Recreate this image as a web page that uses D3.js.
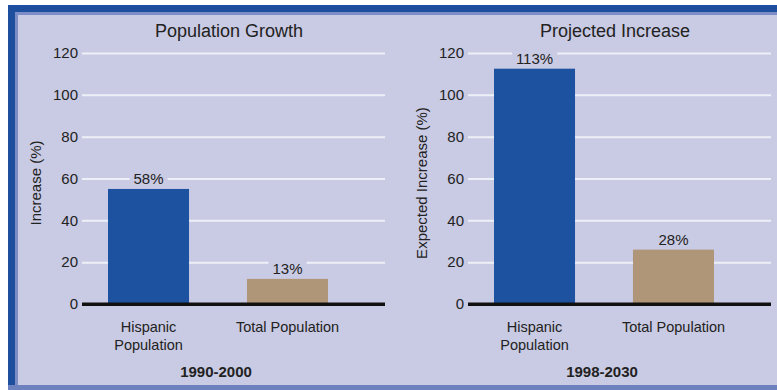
<!DOCTYPE html>
<html>
<head>
<meta charset="utf-8">
<script src="https://cdn.jsdelivr.net/npm/d3@7"></script>
<style>
  body { margin: 0; background: #fff; }
  svg { display: block; font-family: "Liberation Sans", Arial, sans-serif; }
  text { fill: #222; }
</style>
</head>
<body>
<svg width="777" height="390"></svg>
<script>
// chart values
var panelTitles = ["Population Growth", "Projected Increase"];
var periods = ["1990-2000", "1998-2030"];
var yTitles = ["Increase (%)", "Expected Increase (%)"];
var categories = ["Hispanic Population", "Total Population"];
var categoryLines = [["Hispanic", "Population"], ["Total Population"]];
var growthValues = [55, 12];        // bar heights as drawn, 1990-2000
var growthLabels = ["58%", "13%"];
var projectedValues = [112.5, 26];  // bar heights as drawn, 1998-2030
var projectedLabels = ["113%", "28%"];
var yTicks = [0, 20, 40, 60, 80, 100, 120];

var svg = d3.select("svg"),
    width = +svg.attr("width"),
    height = +svg.attr("height");

var bg = "#c9cae3",
    barColors = ["#1c52a0", "#b09679"];

// frame
svg.append("rect").attr("x", 8).attr("y", 5).attr("width", width - 8).attr("height", height - 5).attr("fill", bg);
svg.append("rect").attr("x", 8).attr("y", 5).attr("width", width - 8).attr("height", 7).attr("fill", "#1d4f9e");
svg.append("rect").attr("x", 8).attr("y", 12).attr("width", width - 8).attr("height", 3).attr("fill", "#7d8dc6");
svg.append("rect").attr("x", 8).attr("y", 5).attr("width", 7).attr("height", height - 5).attr("fill", "#1d4f9e");
svg.append("rect").attr("x", 15).attr("y", 12).attr("width", 3).attr("height", height - 17).attr("fill", "#7d8dc6");
svg.append("rect").attr("x", 8).attr("y", 385).attr("width", width - 8).attr("height", 5).attr("fill", "#6c81bd");

var y = d3.scaleLinear()
    .domain([0, 120])
    .range([304, 53]);

var x = d3.scaleBand()
    .domain(categories)
    .range([108, 328])
    .paddingInner(0.417);

var panels = [
  {values: growthValues, labels: growthLabels, dx: 0},
  {values: projectedValues, labels: projectedLabels, dx: 386}
];

panels.forEach(function(p, i) {
  var g = svg.append("g").attr("transform", "translate(" + p.dx + ",0)");

  // grid
  g.append("g")
      .attr("transform", "translate(82,0)")
      .call(d3.axisLeft(y).tickValues(yTicks).tickSize(-303).tickPadding(4).tickFormat(d3.format("d")))
      .call(function(a) {
        a.select(".domain").remove();
        a.selectAll(".tick line")
            .attr("stroke", function(d) { return d === 0 ? "#111" : "#eef0f8"; })
            .attr("stroke-width", function(d) { return d === 0 ? 3 : 2; });
        a.selectAll(".tick text")
            .attr("fill", "#222")
            .attr("font-size", 15)
            .attr("font-family", "Liberation Sans, Arial, sans-serif");
      });

  // bars
  g.selectAll(".bar")
    .data(p.values)
    .enter().append("rect")
      .attr("x", function(d, j) { return x(categories[j]); })
      .attr("y", function(d) { return y(d); })
      .attr("width", x.bandwidth())
      .attr("height", function(d) { return y(0) - y(d); })
      .attr("fill", function(d, j) { return barColors[j]; });

  // baseline redrawn over bars
  g.append("line")
      .attr("x1", 82).attr("x2", 385)
      .attr("y1", y(0)).attr("y2", y(0))
      .attr("stroke", "#111").attr("stroke-width", 3);

  // value labels with background knockout
  var lab = g.selectAll(".val")
    .data(p.values)
    .enter().append("g");
  lab.append("text")
      .attr("x", function(d, j) { return x(categories[j]) + x.bandwidth() / 2; })
      .attr("y", function(d) { return y(d) - 5; })
      .attr("text-anchor", "middle")
      .attr("font-size", 15)
      .text(function(d, j) { return p.labels[j]; })
      .each(function() {
        var b = this.getBBox();
        d3.select(this.parentNode).insert("rect", "text")
            .attr("x", b.x - 4).attr("y", b.y)
            .attr("width", b.width + 8).attr("height", b.height)
            .attr("fill", bg);
      });

  // category labels
  categoryLines.forEach(function(lines, j) {
    var t = g.append("text")
        .attr("x", x(categories[j]) + x.bandwidth() / 2)
        .attr("y", 332)
        .attr("text-anchor", "middle")
        .attr("font-size", 14.5);
    lines.forEach(function(s, k) {
      t.append("tspan")
          .attr("x", x(categories[j]) + x.bandwidth() / 2)
          .attr("dy", k ? 18 : 0)
          .text(s);
    });
  });

  // titles
  g.append("text")
      .attr("x", 229).attr("y", 37)
      .attr("text-anchor", "middle")
      .attr("font-size", 18)
      .text(panelTitles[i]);

  g.append("text")
      .attr("x", 216).attr("y", 377)
      .attr("text-anchor", "middle")
      .attr("font-size", 15)
      .attr("font-weight", "bold")
      .text(periods[i]);

  g.append("text")
      .attr("transform", "translate(41,183) rotate(-90)")
      .attr("text-anchor", "middle")
      .attr("font-size", 15)
      .text(yTitles[i]);
});
</script>
</body>
</html>
